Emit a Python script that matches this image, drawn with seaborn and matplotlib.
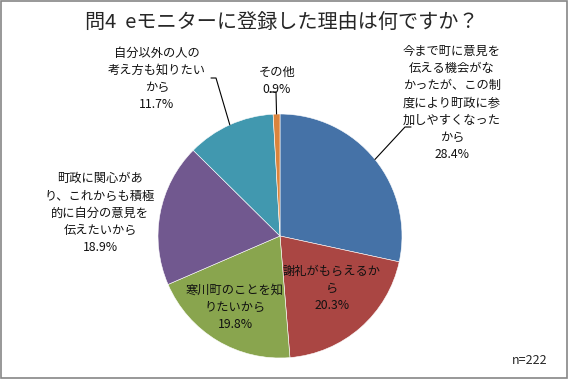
import numpy as np
import matplotlib
matplotlib.use("Agg")
import matplotlib.pyplot as plt
import seaborn as sns

# data
reasons = [
    "今まで町に意見を\n伝える機会がな\nかったが、この制\n度により町政に参\n加しやすくなった\nから",
    "謝礼がもらえるか\nら",
    "寒川町のことを知\nりたいから",
    "町政に関心があ\nり、これからも積極\n的に自分の意見を\n伝えたいから",
    "自分以外の人の\n考え方も知りたい\nから",
    "その他",
]
shares = [28.4, 20.3, 19.8, 18.9, 11.7, 0.9]
n_total = 222
title = "問4  eモニターに登録した理由は何ですか？"

colors = ["#4572A7", "#AA4643", "#89A54E", "#71588F", "#4198AF", "#DB843D"]

# layout in pixel units (y measured from top)
W, H = 568, 379
center_px = (280, 236)
radius_px = 122
label_pos = [(452, 103), (332, 288), (235, 307), (100, 213), (157, 79), (277, 81)]
# leader lines: (start, elbow) or None
leaders = [((411, 127), (405, 127)), None, None, None,
           ((211, 78), (216, 78)), ((270, 92), (276, 92))]

sns.set_theme(style="white")
plt.rcParams["font.family"] = ["Noto Sans CJK JP", "DejaVu Sans"]

fig = plt.figure(figsize=(W / 100, H / 100), dpi=100)
ax = fig.add_axes([0, 0, 1, 1])

cx, cy = center_px[0], H - center_px[1]
wedges, _ = ax.pie(shares, colors=colors, startangle=90, counterclock=False,
                   center=(cx, cy), radius=radius_px,
                   wedgeprops=dict(edgecolor="white", linewidth=0.4))
ax.set_xlim(0, W)
ax.set_ylim(0, H)
ax.set_aspect("equal")
ax.axis("off")

for w, name, pct, (lx, ly), ld in zip(wedges, reasons, shares, label_pos, leaders):
    ax.text(lx, H - ly, f"{name}\n{pct:.1f}%", ha="center", va="center",
            fontsize=8.8, linespacing=1.42, color="#111111")
    if ld is not None:
        mid = np.deg2rad((w.theta1 + w.theta2) / 2)
        ex = cx + radius_px * np.cos(mid)
        ey = cy + radius_px * np.sin(mid)
        (sx, sy), (bx, by) = ld
        ax.plot([sx, bx, ex], [H - sy, H - by, ey], color="black", lw=0.8)

ax.text(W / 2 - 2, H - 22, title, ha="center", va="center", fontsize=14.5)
ax.text(530, H - 361, f"n={n_total}", ha="center", va="center", fontsize=9)

# outer frame
fig.patches.append(plt.Rectangle((0.001, 0.002), 0.997, 0.996, transform=fig.transFigure,
                                 fill=False, edgecolor="#868686", linewidth=1.2))

fig.savefig("out.png", dpi=100)
